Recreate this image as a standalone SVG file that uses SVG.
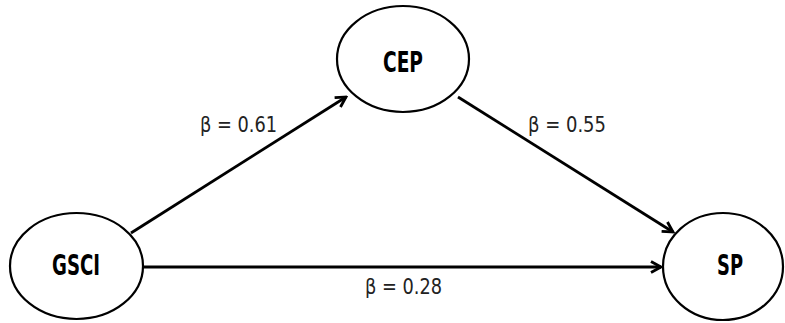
<svg xmlns="http://www.w3.org/2000/svg" width="785" height="323" viewBox="0 0 785 323">
<defs>
<marker id="ah" markerWidth="14" markerHeight="14" refX="12" refY="7" orient="auto" markerUnits="userSpaceOnUse" viewBox="0 0 14 14">
<path d="M2,1.5 L12,7 L2,12.5" fill="none" stroke="#000" stroke-width="2.8" stroke-linejoin="miter"/>
</marker>
<style>
.node ellipse{fill:#fff;stroke:#000;stroke-width:2.2}
.node text{font-family:"DejaVu Sans Condensed","DejaVu Sans",sans-serif;font-stretch:condensed;font-weight:bold;font-size:28px;text-anchor:middle;fill:#000}
.edge line{stroke:#000;stroke-width:2.8;marker-end:url(#ah)}
.lbl{font-family:"DejaVu Sans Condensed","DejaVu Sans",sans-serif;font-stretch:condensed;font-size:20.5px;fill:#222}
</style>
</defs>
<rect width="785" height="323" fill="#fff"/>
<g id="CEP" class="node"><ellipse cx="403" cy="59" rx="66" ry="53"/><text x="403" y="72" textLength="40" lengthAdjust="spacingAndGlyphs">CEP</text></g>
<g id="GSCI" class="node"><ellipse cx="76.5" cy="266" rx="66.5" ry="53"/><text x="76" y="275" textLength="48" lengthAdjust="spacingAndGlyphs">GSCI</text></g>
<g id="SP" class="node"><ellipse cx="723" cy="266.5" rx="60" ry="53.5"/><text x="730" y="275" textLength="26" lengthAdjust="spacingAndGlyphs">SP</text></g>
<g id="connectors" class="edge">
<line x1="131" y1="233" x2="346" y2="97"/>
<line x1="458" y1="97" x2="673" y2="232"/>
<line x1="143" y1="267" x2="661" y2="267"/>
</g>
<g id="labels">
<text class="lbl" x="200" y="132" textLength="77" lengthAdjust="spacingAndGlyphs">β = 0.61</text>
<text class="lbl" x="528" y="132" textLength="78" lengthAdjust="spacingAndGlyphs">β = 0.55</text>
<text class="lbl" x="365" y="294" textLength="77" lengthAdjust="spacingAndGlyphs">β = 0.28</text>
</g>
</svg>
